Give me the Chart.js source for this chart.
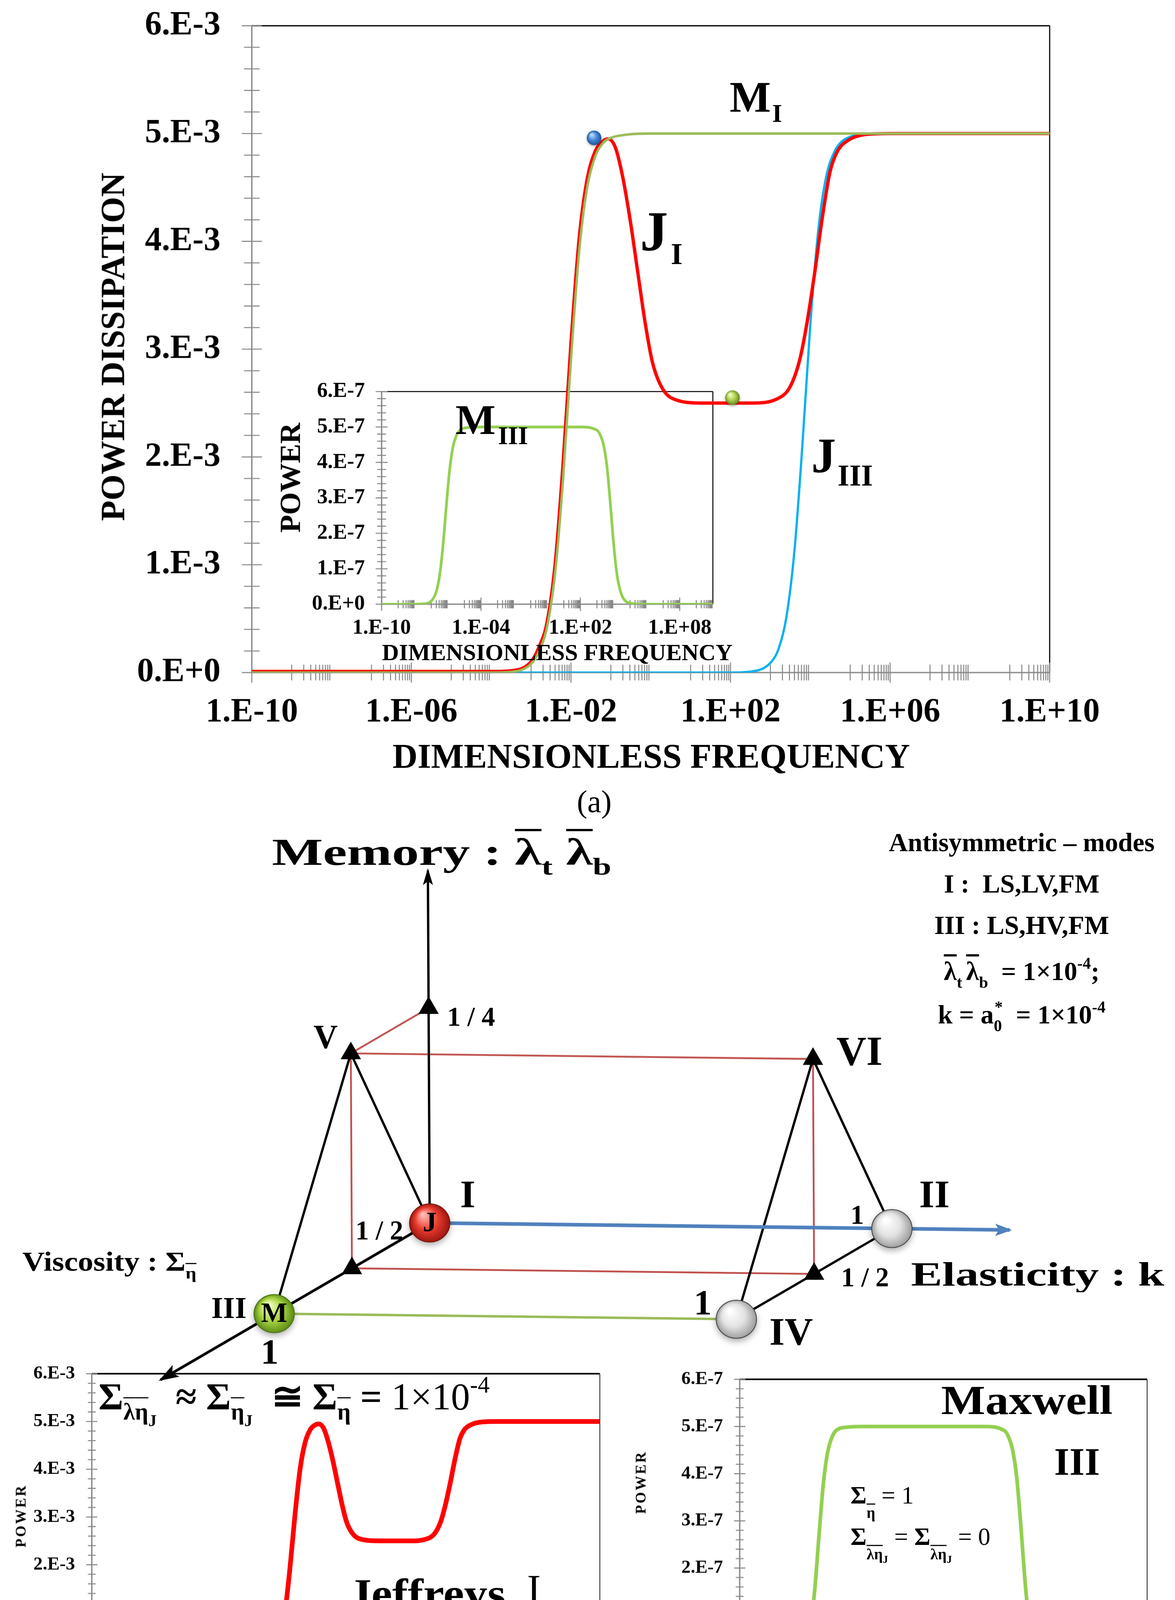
<!DOCTYPE html>
<html>
<head>
<meta charset="utf-8">
<script src="https://cdn.jsdelivr.net/npm/chart.js@4.4.1/dist/chart.umd.min.js"></script>
<style>
  html, body { margin: 0; padding: 0; background: #fff; overflow: hidden; }
  #stage { position: absolute; left: 0; top: 0; width: 1050px; height: 1567px; transform-origin: 0 0;
           font-family: 'Liberation Serif', 'Times New Roman', serif; color: #000; }
  #stage canvas { position: absolute; }
  .t { position: absolute; white-space: nowrap; line-height: 0; }
  .sb { font-size: 62%; position: relative; top: 0.45em; }
  .sbl { font-size: 62%; position: relative; top: 0.95em; }
  .sb2 { font-size: 70%; position: relative; top: 0.35em; }
  .sp { font-size: 62%; position: relative; top: -0.7em; }
  .ol { text-decoration: overline; text-decoration-thickness: 0.07em; }
  .n { font-weight: normal; }
</style>
</head>
<body>
<div id="stage"></div>
<script>
// ---- data ----
// (a) main plot: dimensionless frequency vs power dissipation
const freqMI = [1e-10, 1e-4, 3e-4, 1e-3, 1.6e-3, 2.5e-3, 4e-3, 6.3e-3, 1e-2, 1.6e-2, 2.5e-2, 4e-2, 6.3e-2, 1e-1, 2.5e-1, 1, 1e10];
const powerMI = [0, 0, 0.006e-3, 0.08e-3, 0.2e-3, 0.42e-3, 0.92e-3, 1.78e-3, 2.9e-3, 3.9e-3, 4.48e-3, 4.78e-3, 4.91e-3, 4.96e-3, 4.99e-3, 5e-3, 5e-3];

const freqJI = [1e-10, 1e-4, 3e-4, 1e-3, 1.6e-3, 2.5e-3, 4e-3, 6.3e-3, 1e-2, 1.6e-2, 2.5e-2, 4e-2, 6.3e-2, 8.5e-2,
  1.3e-1, 2e-1, 3.1e-1, 4.7e-1, 7.2e-1, 1.1, 2, 4.7, 20, 350, 1.5e3, 3.1e3, 5.5e3, 8.3e3, 1.3e4, 2e4, 3.1e4, 4.7e4, 8.3e4, 2.3e5, 1e6, 1e10];
const powerJI = [0.01e-3, 0.01e-3, 0.016e-3, 0.1e-3, 0.24e-3, 0.46e-3, 1.0e-3, 1.92e-3, 3.05e-3, 4.02e-3, 4.56e-3, 4.83e-3, 4.93e-3, 4.95e-3,
  4.87e-3, 4.59e-3, 4.18e-3, 3.72e-3, 3.25e-3, 2.88e-3, 2.63e-3, 2.525e-3, 2.5e-3, 2.5e-3, 2.54e-3, 2.65e-3, 2.91e-3, 3.25e-3, 3.72e-3, 4.22e-3,
  4.64e-3, 4.83e-3, 4.93e-3, 4.99e-3, 5e-3, 5e-3];

const freqJIII = [1e-10, 1e2, 3e2, 1e3, 1.6e3, 2.5e3, 4e3, 6.3e3, 1e4, 1.6e4, 2.5e4, 4e4, 6.3e4, 1e5, 2.5e5, 1e6, 1e10];
const powerJIII = [0, 0, 0.008e-3, 0.09e-3, 0.22e-3, 0.51e-3, 1.13e-3, 2.1e-3, 3.23e-3, 4.12e-3, 4.6e-3, 4.83e-3, 4.93e-3, 4.97e-3, 5e-3, 5e-3, 5e-3];

// inset and Maxwell panel: M_III
const freqMIII = [1e-10, 1e-8, 3e-8, 1e-7, 2e-7, 3.2e-7, 5e-7, 8e-7, 1.25e-6, 2e-6, 3.2e-6, 5e-6, 1e-5, 1e-4, 1e2, 1e3, 1.6e3,
  2.5e3, 4e3, 6.3e3, 1e4, 1.6e4, 2.5e4, 4e4, 1e5, 1e6, 1e10];
const powerMIII = [0, 0, 0.01e-7, 0.09e-7, 0.36e-7, 0.82e-7, 1.62e-7, 2.75e-7, 3.75e-7, 4.42e-7, 4.75e-7, 4.9e-7, 4.97e-7, 5e-7, 5e-7, 4.91e-7, 4.77e-7,
  4.5e-7, 3.9e-7, 2.9e-7, 1.75e-7, 0.86e-7, 0.4e-7, 0.16e-7, 0.03e-7, 0, 0];

// marker dots on the main plot
const dotFreq = [3.8e-2, 1.12e2];
const dotPower = [4.96e-3, 2.55e-3];

// tick values and labels
const freqTicksWide = [1e-10, 1e-6, 1e-2, 1e2, 1e6, 1e10];
const freqLabelsWide = ['1.E-10', '1.E-06', '1.E-02', '1.E+02', '1.E+06', '1.E+10'];
const freqTicksInset = [1e-10, 1e-4, 1e2, 1e8];
const freqLabelsInset = ['1.E-10', '1.E-04', '1.E+02', '1.E+08'];
const powerTicks3 = [0, 1e-3, 2e-3, 3e-3, 4e-3, 5e-3, 6e-3];
const powerLabels3 = ['0.E+0', '1.E-3', '2.E-3', '3.E-3', '4.E-3', '5.E-3', '6.E-3'];
const powerTicks7 = [0, 1e-7, 2e-7, 3e-7, 4e-7, 5e-7, 6e-7];
const powerLabels7 = ['0.E+0', '1.E-7', '2.E-7', '3.E-7', '4.E-7', '5.E-7', '6.E-7'];

// (b) schematic: nodes given as (elasticity k, viscosity, memory)
const nodeNames = ['J', 'II', 'M', 'IV', 'V', 'VI', 'mem14', 'visc12', 'el1visc12', 'memTip', 'elTip', 'viscTip'];
const nodeK = [0, 1, 0, 1, 0, 1, 0, 0, 1, 0, 1.255, 0];
const nodeV = [0, 0, 1, 1, 0.5, 0.5, 0, 0.5, 0.5, 0, 0, 1.73];
const nodeM = [0, 0, 0, 0, 0.25, 0.25, 0.25, 0, 0, 0.41, 0, 0];
const blackEdges = [['V', 'J'], ['V', 'M'], ['VI', 'II'], ['VI', 'IV'], ['II', 'IV']];
const redEdges = [['V', 'mem14'], ['V', 'VI'], ['V', 'visc12'], ['VI', 'el1visc12'], ['visc12', 'el1visc12']];
const greenEdges = [['M', 'IV']];
const triNodes = ['mem14', 'V', 'VI', 'visc12', 'el1visc12'];
const ballNodes = ['J', 'II', 'M', 'IV'];
const ballLetters = ['J', '', 'M', ''];

// ---- layout ----
const S = 3007 / 1050;
const FONT = "'Liberation Serif', 'Times New Roman', serif";
const GRAY = '#878787';
const stage = document.getElementById('stage');
stage.style.transform = 'scale(' + S + ')';

// oblique projection of the schematic axes onto the page
const proj = { ox: 384, oy: 1093, kx: 413, ky: 5, vx: -139, vy: 81, mx: -4, my: -768 };
function node(name) {
  const i = nodeNames.indexOf(name);
  return {
    x: proj.ox + nodeK[i] * proj.kx + nodeV[i] * proj.vx + nodeM[i] * proj.mx,
    y: proj.oy + nodeK[i] * proj.ky + nodeV[i] * proj.vy + nodeM[i] * proj.my
  };
}

function series(xs, ys) { return xs.map((x, i) => ({ x: x, y: ys[i] })); }

function oddDecadeTicks() {
  const t = [];
  for (let n = -9; n <= 9; n += 2) for (let k = 1; k <= 9; k++) t.push(k * Math.pow(10, n));
  return t;
}
function linearMinor(max, step) {
  const t = [];
  for (let i = 0; i <= Math.round(max / step); i++) t.push(i * step);
  return t;
}

function mount(left, top, w, h) {
  const c = document.createElement('canvas');
  c.width = w; c.height = h;
  c.style.left = left + 'px'; c.style.top = top + 'px';
  stage.appendChild(c);
  return c;
}

function makeAxisMarks(m) {
  return {
    id: 'axisMarks',
    beforeDatasetsDraw(chart) {
      const { ctx, chartArea: a, scales: { x, y } } = chart;
      ctx.save();
      // frame (top + right)
      ctx.strokeStyle = '#000';
      ctx.lineWidth = m.frameTop;
      ctx.beginPath(); ctx.moveTo(a.left, a.top); ctx.lineTo(a.right, a.top); ctx.stroke();
      ctx.strokeStyle = m.rightColor || '#000';
      ctx.lineWidth = m.frameRight;
      ctx.beginPath(); ctx.moveTo(a.right, a.top); ctx.lineTo(a.right, a.bottom); ctx.stroke();
      // axes
      ctx.strokeStyle = GRAY;
      ctx.lineWidth = m.axisWidth;
      ctx.beginPath();
      ctx.moveTo(a.left, a.top); ctx.lineTo(a.left, a.bottom);
      ctx.moveTo(a.left, a.bottom); ctx.lineTo(a.right, a.bottom);
      ctx.stroke();
      // ticks crossing the axes
      ctx.lineWidth = m.tickWidth;
      ctx.beginPath();
      const tx = (vals, len) => vals.forEach(v => {
        const px = x.getPixelForValue(v);
        ctx.moveTo(px, a.bottom - len); ctx.lineTo(px, a.bottom + len);
      });
      const ty = (vals, len) => vals.forEach(v => {
        const py = y.getPixelForValue(v);
        ctx.moveTo(a.left - len, py); ctx.lineTo(a.left + len, py);
      });
      tx(m.xMinor, m.xMinorLen); tx(m.xMajor, m.xMajorLen);
      ty(m.yMinor, m.yMinorLen); ty(m.yMajor, m.yMajorLen);
      ctx.stroke();
      ctx.restore();
    }
  };
}

const ballPlugin = {
  id: 'balls',
  afterDatasetsDraw(chart) {
    const ctx = chart.ctx;
    const dpr = chart.currentDevicePixelRatio;
    chart.data.datasets.forEach((ds, i) => {
      if (!ds.ballStyle) return;
      chart.getDatasetMeta(i).data.forEach((el, j) => {
        const st = ds.ballStyle[j];
        const r = ds.ballRadius;
        const g = ctx.createRadialGradient(el.x - r * 0.35, el.y - r * 0.45, r * 0.08, el.x, el.y, r * 1.05);
        g.addColorStop(0, st.stops[0]);
        g.addColorStop(0.55, st.stops[1]);
        g.addColorStop(1, st.stops[2]);
        ctx.save();
        ctx.shadowColor = 'rgba(0,0,0,0.35)';
        ctx.shadowBlur = r * 0.35 * dpr;
        ctx.shadowOffsetY = r * 0.15 * dpr;
        ctx.beginPath();
        ctx.ellipse(el.x, el.y, r * (ds.ballAspect || 1), r, 0, 0, Math.PI * 2);
        ctx.fillStyle = g;
        ctx.fill();
        ctx.shadowColor = 'transparent';
        if (st.edge) { ctx.strokeStyle = st.edge; ctx.lineWidth = 0.8; ctx.stroke(); }
        const letter = ds.ballText && ds.ballText[j];
        if (letter) {
          ctx.fillStyle = '#000';
          ctx.font = 'bold ' + ds.ballFont + 'px ' + FONT;
          ctx.textAlign = 'center';
          ctx.textBaseline = 'middle';
          ctx.fillText(letter, el.x, el.y + 1);
        }
        ctx.restore();
      });
    });
  }
};

const arrowPlugin = {
  id: 'arrowHeads',
  afterDatasetsDraw(chart) {
    const ctx = chart.ctx;
    chart.data.datasets.forEach((ds, i) => {
      if (!ds.arrowHead) return;
      const pts = chart.getDatasetMeta(i).data;
      const a = pts[pts.length - 2], b = pts[pts.length - 1];
      const ang = Math.atan2(b.y - a.y, b.x - a.x);
      const h = ds.arrowHead;
      ctx.save();
      ctx.translate(b.x, b.y);
      ctx.rotate(ang);
      ctx.beginPath();
      ctx.moveTo(2, 0);
      ctx.lineTo(-h.len, h.width / 2);
      ctx.lineTo(-h.len * 0.75, 0);
      ctx.lineTo(-h.len, -h.width / 2);
      ctx.closePath();
      ctx.fillStyle = ds.borderColor;
      ctx.fill();
      ctx.restore();
    });
  }
};

function powerChart(c) {
  const canvas = mount(c.left, c.top, c.width, c.height);
  const tickFont = { family: FONT, size: c.fontSize, weight: 'bold' };
  return new Chart(canvas, {
    type: 'line',
    data: { datasets: c.datasets },
    options: {
      responsive: false,
      animation: false,
      events: [],
      devicePixelRatio: S,
      layout: { padding: c.pad, autoPadding: false },
      elements: {
        point: { radius: 0 },
        line: { cubicInterpolationMode: 'monotone', fill: false, borderCapStyle: 'round', borderJoinStyle: 'round' }
      },
      plugins: { legend: { display: false }, tooltip: { enabled: false } },
      scales: {
        // label offsets come from an invisible tick length so they do not widen the layout padding
        x: {
          type: 'logarithmic', min: 1e-10, max: 1e10,
          afterBuildTicks: s => { s.ticks = c.xTicks.map(v => ({ value: v })); },
          afterFit: s => { s.height = c.xHeight; },
          ticks: { autoSkip: false, maxRotation: 0, minRotation: 0, padding: 0, color: '#000', font: tickFont,
                   callback: (v, i) => c.xLabels[i] },
          grid: { display: false, drawTicks: true, tickLength: c.xPad },
          border: { display: false }
        },
        y: {
          type: 'linear', min: 0, max: c.yMax,
          afterBuildTicks: s => { s.ticks = c.yTicks.map(v => ({ value: v })); },
          afterFit: s => { s.width = c.yWidth; },
          ticks: { padding: 0, color: '#000', font: tickFont, callback: (v, i) => c.yLabels[i] },
          grid: { display: false, drawTicks: true, tickLength: c.yPad },
          border: { display: false }
        }
      }
    },
    plugins: [makeAxisMarks(c.marks), ballPlugin]
  });
}

const BLUE_DOT = { stops: ['#c4defa', '#3f82d6', '#1d4f92'] };
const GREEN_DOT = { stops: ['#f4ffc4', '#a9cb4b', '#5f7f17'] };
const RED_BALL = { stops: ['#ffb8b0', '#e8392d', '#98170f'], edge: '#7d150e' };
const GREY_BALL = { stops: ['#ffffff', '#e2e2e2', '#9c9c9c'], edge: '#4a4a4a' };
const GREEN_BALL = { stops: ['#f3ffc6', '#a7d341', '#5a8a16'], edge: '#4b7412' };

const minorFreq = oddDecadeTicks();

// inset (drawn first, the main curves run over it)
powerChart({
  left: 200, top: 330, width: 470, height: 240,
  pad: { left: 0, top: 20, right: 33, bottom: 0 },
  yWidth: 141, xHeight: 30, xPad: 10, yPad: 15, fontSize: 19,
  xTicks: freqTicksInset, xLabels: freqLabelsInset,
  yMax: 6e-7, yTicks: powerTicks7, yLabels: powerLabels7,
  datasets: [{ data: series(freqMIII, powerMIII), borderColor: '#92d050', borderWidth: 2.4 }],
  marks: { xMajor: freqTicksInset, xMinor: minorFreq, yMajor: powerTicks7, yMinor: linearMinor(6e-7, 0.2e-7),
           xMajorLen: 6, xMinorLen: 3.7, yMajorLen: 5.3, yMinorLen: 4, axisWidth: 1.2, tickWidth: 0.9,
           frameTop: 0.9, frameRight: 0.9 }
});

// main plot (a)
powerChart({
  left: 60, top: 0, width: 940, height: 700,
  pad: { left: 0, top: 23, right: 62, bottom: 0 },
  yWidth: 165, xHeight: 99, xPad: 18, yPad: 28, fontSize: 30,
  xTicks: freqTicksWide, xLabels: freqLabelsWide,
  yMax: 6e-3, yTicks: powerTicks3, yLabels: powerLabels3,
  datasets: [
    { data: series(dotFreq, dotPower), showLine: false, pointRadius: 0, ballStyle: [BLUE_DOT, GREEN_DOT], ballRadius: 6.5, order: 0 },
    { data: series(freqMI, powerMI), borderColor: '#9bbb59', borderWidth: 2.2, order: 1 },
    { data: series(freqJI, powerJI), borderColor: '#ff0000', borderWidth: 3, order: 2 },
    { data: series(freqJIII, powerJIII), borderColor: '#00b0f0', borderWidth: 2, order: 3 }
  ],
  marks: { xMajor: freqTicksWide, xMinor: minorFreq, yMajor: powerTicks3, yMinor: linearMinor(6e-3, 0.2e-3),
           xMajorLen: 9, xMinorLen: 7, yMajorLen: 9, yMinorLen: 7, axisWidth: 1.2, tickWidth: 0.9,
           frameTop: 1.1, frameRight: 1.0 }
});

// Jeffreys panel
powerChart({
  left: 0, top: 1205, width: 565, height: 320,
  pad: { left: 0, top: 23, right: 29, bottom: 0 },
  yWidth: 82, xHeight: 41, xPad: 10, yPad: 15, fontSize: 16.5,
  xTicks: freqTicksWide, xLabels: freqLabelsWide,
  yMax: 6e-3, yTicks: powerTicks3, yLabels: powerLabels3,
  datasets: [{ data: series(freqJI, powerJI), borderColor: '#ff0000', borderWidth: 4.2 }],
  marks: { xMajor: freqTicksWide, xMinor: minorFreq, yMajor: powerTicks3, yMinor: linearMinor(6e-3, 0.2e-3),
           xMajorLen: 6, xMinorLen: 4, yMajorLen: 5, yMinorLen: 3.5, axisWidth: 1.2, tickWidth: 0.9,
           frameTop: 1.4, frameRight: 0.8, rightColor: '#333' }
});

// Maxwell panel
powerChart({
  left: 575, top: 1210, width: 475, height: 315,
  pad: { left: 0, top: 23, right: 25, bottom: 0 },
  yWidth: 86, xHeight: 39, xPad: 10, yPad: 15, fontSize: 16.5,
  xTicks: freqTicksWide, xLabels: freqLabelsWide,
  yMax: 6e-7, yTicks: powerTicks7, yLabels: powerLabels7,
  datasets: [{ data: series(freqMIII, powerMIII), borderColor: '#92d050', borderWidth: 3.3 }],
  marks: { xMajor: freqTicksWide, xMinor: minorFreq, yMajor: powerTicks7, yMinor: linearMinor(6e-7, 0.2e-7),
           xMajorLen: 6, xMinorLen: 4, yMajorLen: 5, yMinorLen: 3.5, axisWidth: 1.2, tickWidth: 0.9,
           frameTop: 1.4, frameRight: 0.8, rightColor: '#333' }
});

// schematic (b)
(function () {
  const canvas = mount(0, 740, 1050, 500);
  const edge = (pair, color, width, head) => ({
    data: [node(pair[0]), node(pair[1])], showLine: true, borderColor: color, borderWidth: width,
    pointRadius: 0, arrowHead: head, borderCapStyle: 'butt'
  });
  const datasets = [];
  redEdges.forEach(p => datasets.push(edge(p, '#c0504d', 1.6)));
  greenEdges.forEach(p => datasets.push(edge(p, '#9bbb59', 2.2)));
  blackEdges.forEach(p => datasets.push(edge(p, '#000', 2.1)));
  datasets.push(edge(['J', 'memTip'], '#000', 2.1, { len: 13, width: 9 }));
  datasets.push(edge(['J', 'viscTip'], '#000', 2.4, { len: 16, width: 12 }));
  datasets.push(edge(['J', 'elTip'], '#4f81bd', 3.2, { len: 13, width: 11 }));
  datasets.push({ data: triNodes.map(node), showLine: false, pointStyle: 'triangle', pointRadius: 10.5,
                  backgroundColor: '#000', borderColor: '#000', borderWidth: 0 });
  datasets.push({ data: ballNodes.map(node), showLine: false, pointRadius: 0, ballRadius: 17, ballAspect: 1.06,
                  ballStyle: [RED_BALL, GREY_BALL, GREEN_BALL, GREY_BALL], ballText: ballLetters, ballFont: 25 });
  datasets.forEach((d, i) => { d.order = datasets.length - i; });
  new Chart(canvas, {
    type: 'scatter',
    data: { datasets },
    options: {
      responsive: false, animation: false, events: [], devicePixelRatio: S,
      layout: { padding: 0, autoPadding: false },
      plugins: { legend: { display: false }, tooltip: { enabled: false } },
      scales: {
        x: { type: 'linear', min: 0, max: 1050, display: false },
        y: { type: 'linear', min: 740, max: 1240, reverse: true, display: false }
      }
    },
    plugins: [arrowPlugin, ballPlugin]
  });
})();

// ---- text ----
function put(html, x, y, size, o) {
  o = o || {};
  const d = document.createElement('div');
  d.className = 't';
  d.innerHTML = html;
  const ax = o.align === 'center' ? 0.5 : (o.align === 'right' ? 1 : 0);
  d.style.left = x + 'px';
  d.style.top = y + 'px';
  d.style.fontSize = size + 'px';
  d.style.fontWeight = o.weight || 'bold';
  if (o.spacing) d.style.letterSpacing = o.spacing + 'px';
  let tf = 'translateX(' + (-ax * 100) + '%)';
  if (o.rotate) tf += ' rotate(' + o.rotate + 'deg)';
  if (o.sx) tf += ' scaleX(' + o.sx + ')';
  d.style.transformOrigin = (ax * 100) + '% 0';
  d.style.transform = tf;
  stage.appendChild(d);
}

const lamT = '<span class="ol">λ</span><span class="sb">t</span>';
const lamB = '<span class="ol">λ</span><span class="sb">b</span>';
const subLamEtaJ = '<span class="ol">λ</span><span class="ol">η</span><span class="sb2">J</span>';

// (a)
put('POWER DISSIPATION', 101, 310, 30, { align: 'center', rotate: -90 });
put('DIMENSIONLESS FREQUENCY', 582, 676, 31, { align: 'center' });
put('(a)', 531, 717, 28, { align: 'center', weight: 'normal' });
put('M', 652, 87, 39);
put('I', 690, 102, 23);
put('J', 572, 207, 50);
put('I', 599.5, 226.5, 27);
put('J', 725, 408, 44);
put('III', 748.5, 424.6, 27);
put('M', 407, 374.5, 38);
put('III', 445, 389.5, 23);
put('POWER', 260, 427, 26, { align: 'center', rotate: -90 });
put('DIMENSIONLESS FREQUENCY', 498, 583, 21, { align: 'center' });

// (b) schematic labels
put('Memory : ' + lamT + '&nbsp;' + lamB, 243, 761.5, 34, { sx: 1.42 });
put('Antisymmetric – modes', 913, 753, 23.5, { align: 'center' });
put('I :&nbsp; LS,LV,FM', 913, 790, 23.5, { align: 'center' });
put('III : LS,HV,FM', 913, 827, 23.5, { align: 'center' });
put(lamT + '<span style="margin-left:0.15em"></span>' + lamB + ' &nbsp;= 1×10<span class="sp">-4</span>;', 913, 868, 23.5, { align: 'center' });
put('k = a<span class="sb">0</span><span class="sp" style="margin-left:-0.45em">*</span> &nbsp;= 1×10<span class="sp">-4</span>', 913, 907, 23.5, { align: 'center' });
put('Viscosity : Σ<span class="sb"><span class="ol">η</span></span>', 20, 1128, 24, { sx: 1.15 });
put('Elasticity : k', 814, 1139, 30, { sx: 1.4 });
put('I', 418, 1068, 35, { align: 'center' });
put('II', 835, 1068, 35, { align: 'center' });
put('III', 204.6, 1169, 27, { align: 'center' });
put('1', 241, 1208, 32, { align: 'center' });
put('1', 628, 1164, 32, { align: 'center' });
put('IV', 707, 1191, 35, { align: 'center' });
put('V', 291, 927, 30, { align: 'center' });
put('VI', 768, 940, 37, { align: 'center' });
put('1', 766, 1086, 24, { align: 'center' });
put('1 / 2', 339, 1100, 24, { align: 'center' });
put('1 / 2', 773, 1142, 24, { align: 'center' });
put('1 / 4', 421, 909, 24, { align: 'center' });

// Jeffreys panel labels
put('Σ<span class="sb">' + subLamEtaJ + '</span>&nbsp; ≈ Σ<span class="sb"><span class="ol">η</span><span class="sb2">J</span></span>&nbsp; ≅ Σ<span class="sb"><span class="ol">η</span></span> = <span class="n">1×10</span><span class="sp n">-4</span>',
    88, 1249, 34);
put('Jeffreys', 311, 1425, 37, { sx: 1.13 });
put('I', 471, 1421, 37, { weight: 'normal' });
put('FREQUENCY', 146, 1455, 15, { align: 'center' });
put('POWER', 19, 1355, 13, { align: 'center', rotate: -90, spacing: 1.5 });

// Maxwell panel labels
put('Maxwell', 841, 1251.6, 37, { sx: 1.13 });
put('III', 942, 1306.5, 35);
put('Σ<span class="sbl"><span class="ol">η</span></span> <span class="n">= 1</span>', 760, 1337, 22);
put('Σ<span class="sbl">' + subLamEtaJ + '</span> <span class="n">=</span> Σ<span class="sbl">' + subLamEtaJ + '</span> <span class="n">= 0</span>', 760, 1374, 22);
put('FREQUENCY', 845, 1459, 15.5, { align: 'center' });
put('POWER', 573, 1325, 13, { align: 'center', rotate: -90, spacing: 1.5 });
put('(b)', 530, 1545, 28, { align: 'center', weight: 'normal' });
</script>
</body>
</html>
